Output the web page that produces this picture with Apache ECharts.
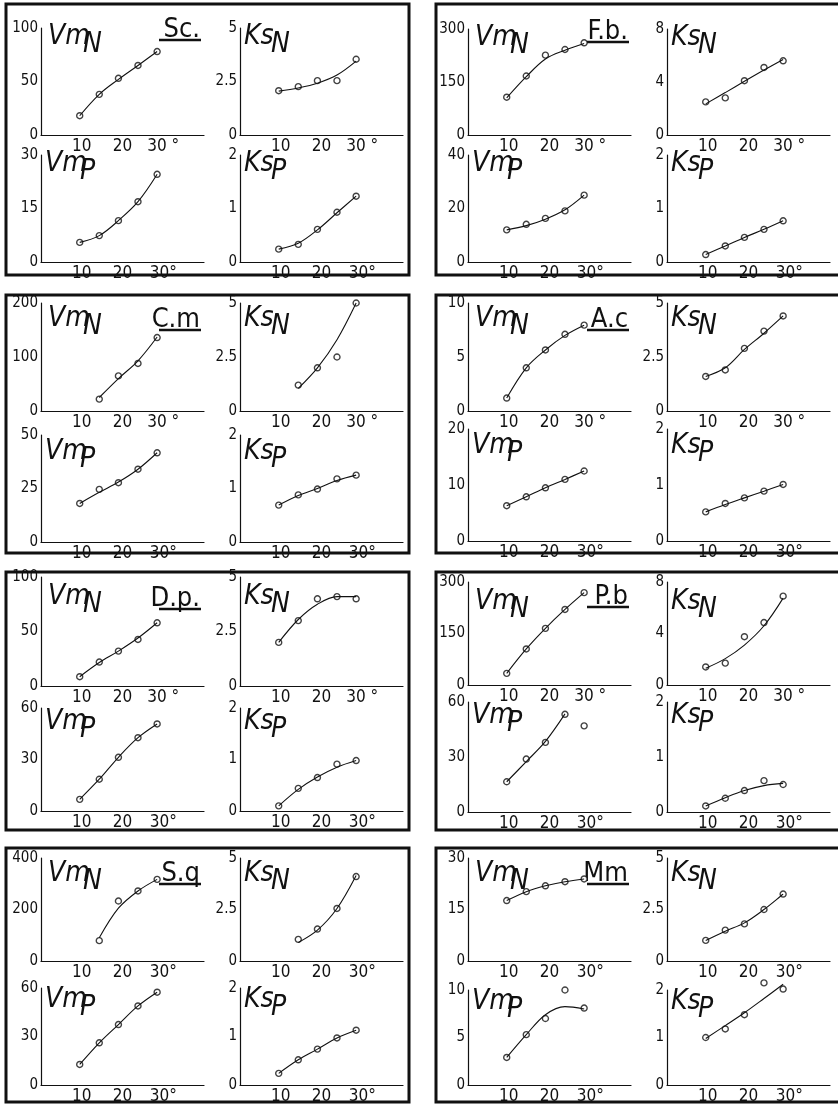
<!DOCTYPE html>
<html>
<head>
<meta charset="utf-8">
<script src="https://cdn.jsdelivr.net/npm/echarts@6/dist/echarts.min.js"></script>
<style>
html, body { margin: 0; background: #fff; }
#chart { width: 838px; height: 1105px; }
</style>
</head>
<body>
<div id="chart"></div>
<script>
// temperatures (deg) at which the five measurements were taken
let degrees = [9.5, 14.3, 19, 23.8, 28.5];
let species = ['Sc.', 'F.b.', 'C.m', 'A.c', 'D.p.', 'P.b', 'S.q', 'Mm'];
let panelNames = [['Vm', 'N'], ['Ks', 'N'], ['Vm', 'P'], ['Ks', 'P']];

// axis maxima, one per species
let vmNMax = [100, 300, 200, 10, 100, 300, 400, 30];
let ksNMax = [5, 8, 5, 5, 5, 8, 5, 5];
let vmPMax = [30, 40, 50, 20, 60, 60, 60, 10];
let ksPMax = [2, 2, 2, 2, 2, 2, 2, 2];

// measured points
let vmNPts = [
	[18, 38, 53, 65, 78],
	[107, 167, 226, 242, 261],
	[null, 22, 65, 88, 136],
	[1.2, 4.0, 5.65, 7.1, 7.95],
	[8.5, 22, 32, 42.7, 58],
	[34, 105, 165, 220, 269],
	[null, 79, 233, 272, 317],
	[17.6, 20.2, 21.9, 23.1, 23.9]
];
let ksNPts = [
	[2.07, 2.26, 2.54, 2.54, 3.54],
	[2.5, 2.8, 4.1, 5.1, 5.6],
	[null, 1.2, 2.0, 2.5, 5.0],
	[1.6, 1.9, 2.9, 3.7, 4.4],
	[2.0, 3.0, 4.0, 4.1, 4.0],
	[1.4, 1.7, 3.75, 4.85, 6.9],
	[null, 1.05, 1.55, 2.55, 4.1],
	[1.0, 1.5, 1.8, 2.5, 3.25]
];
let vmPPts = [
	[5.5, 7.4, 11.6, 16.9, 24.6],
	[12, 14.1, 16.3, 19.1, 25],
	[18, 24.6, 27.7, 34, 41.7],
	[6.3, 7.9, 9.5, 11, 12.5],
	[6.8, 18.5, 31.3, 42.7, 50.7],
	[16.5, 28.9, 38, 53.3, 47],
	[12.7, 26.1, 37.4, 48.9, 57.4],
	[2.9, 5.3, 7.0, 10.0, 8.1]
];
let ksPPts = [
	[0.24, 0.33, 0.61, 0.93, 1.23],
	[0.14, 0.30, 0.46, 0.61, 0.77],
	[0.69, 0.88, 0.99, 1.18, 1.25],
	[0.52, 0.67, 0.77, 0.89, 1.01],
	[0.10, 0.44, 0.65, 0.91, 0.98],
	[0.11, 0.25, 0.39, 0.57, 0.50],
	[0.24, 0.52, 0.74, 0.97, 1.13],
	[1.0, 1.18, 1.48, 2.15, 2.02]
];

// fitted curves
let vmNFit = [
	[18, 38, 52, 65, 78],
	[105, 165, 215, 240, 259],
	[null, 25, 60, 93, 137],
	[1.2, 4.0, 5.65, 7.0, 7.95],
	[8.5, 21.5, 32, 44, 58],
	[34, 105, 165, 220, 269],
	[null, 90, 205, 272, 317],
	[17.6, 20.2, 21.9, 23.1, 23.9]
];
let ksNFit = [
	[2.05, 2.2, 2.42, 2.8, 3.45],
	[2.35, 3.2, 4.05, 4.9, 5.7],
	[null, 1.05, 2.0, 3.3, 5.0],
	[1.6, 2.0, 2.85, 3.6, 4.4],
	[2.0, 3.05, 3.75, 4.1, 4.1],
	[1.3, 2.05, 3.1, 4.6, 6.75],
	[null, 0.9, 1.5, 2.55, 4.15],
	[1.0, 1.45, 1.85, 2.5, 3.25]
];
let vmPFit = [
	[5.5, 7.4, 11.6, 16.9, 24.6],
	[12, 13.6, 16, 19.5, 25],
	[18, 23.2, 28, 34, 41.7],
	[6.3, 7.9, 9.5, 11, 12.5],
	[6.8, 18.5, 31.3, 42.7, 50.7],
	[16.5, 27.5, 38.5, 53.5, null],
	[12.7, 26.1, 37.4, 48.9, 57.4],
	[2.9, 5.3, 7.4, 8.25, 8.0]
];
let ksPFit = [
	[0.24, 0.35, 0.6, 0.92, 1.23],
	[0.14, 0.30, 0.46, 0.61, 0.77],
	[0.69, 0.87, 1.0, 1.15, 1.25],
	[0.52, 0.65, 0.77, 0.89, 1.01],
	[0.10, 0.42, 0.66, 0.85, 0.98],
	[0.11, 0.26, 0.39, 0.48, 0.52],
	[0.24, 0.52, 0.74, 0.97, 1.13],
	[0.98, 1.25, 1.52, 1.82, 2.12]
];

let maxes = [vmNMax, ksNMax, vmPMax, ksPMax];
let pts = [vmNPts, ksNPts, vmPPts, ksPPts];
let fits = [vmNFit, ksNFit, vmPFit, ksPFit];

// layout (pixels)
let colX = [[41, 240], [468, 667]];
let plotW = 163;
let rowY = [
	[[28, 135, 155, 262], [303, 411, 435, 542], [577, 686, 708, 811], [858, 961, 988, 1089]],
	[[29, 135, 155, 262], [303, 411, 429, 541], [582, 685, 702, 812], [858, 961, 990, 1090]]
];
let boxX = [[6, 409], [436, 850]];
let boxY = [[4, 275], [295, 553], [572, 830], [848, 1102]];
let titleDy = [[23, 23], [30, 31], [34, 28], [30, 26]];
let specRight = [200, 628];
let specLine = [40, 42, 330, 330, 609, 607, 884, 884];

let font = "'Liberation Sans Narrow', 'DejaVu Sans Condensed', 'Liberation Sans', sans-serif";
let grids = [], xAxes = [], yAxes = [], series = [], graphics = [];

species.forEach((name, s) => {
	let row = Math.floor(s / 2), col = s % 2;
	let ly = rowY[col][row];
	graphics.push({
		type: 'rect', silent: true,
		shape: { x: boxX[col][0], y: boxY[row][0], width: boxX[col][1] - boxX[col][0], height: boxY[row][1] - boxY[row][0] },
		style: { fill: null, stroke: '#111', lineWidth: 3 }
	});
	graphics.push({
		type: 'text', silent: true, x: specRight[col], y: specLine[s] + 3,
		style: { text: name, font: '27px ' + font, fill: '#111', align: 'right', verticalAlign: 'bottom' }
	});
	graphics.push({
		type: 'line', silent: true,
		shape: { x1: specRight[col] - 41, y1: specLine[s], x2: specRight[col] + 1, y2: specLine[s] },
		style: { stroke: '#111', lineWidth: 2.5 }
	});

	for (let k = 0; k < 4; k++) {
		let g = grids.length;
		let left = colX[col][k % 2];
		let top = k < 2 ? ly[0] : ly[2];
		let bottom = k < 2 ? ly[1] : ly[3];
		let m = maxes[k][s];
		grids.push({ left: left, top: top, width: plotW, height: bottom - top });
		xAxes.push({
			gridIndex: g, type: 'value', min: 0, max: 40, interval: 10,
			axisLine: { lineStyle: { color: '#111', width: 1.2 } },
			axisTick: { show: false }, splitLine: { show: false },
			axisLabel: {
				color: '#111', fontSize: 17, fontFamily: font, margin: 3,
				formatter: v => v === 10 || v === 20 ? String(v) : v === 30 ? (k < 2 && row < 3 ? '30 °' : '30°') : ''
			}
		});
		yAxes.push({
			gridIndex: g, type: 'value', min: 0, max: m, interval: m / 2,
			axisLine: { show: true, lineStyle: { color: '#111', width: 1.2 } },
			axisTick: { show: false }, splitLine: { show: false },
			axisLabel: { color: '#111', fontSize: 15, fontFamily: font, margin: 3, formatter: v => String(v) }
		});
		series.push({
			type: 'line', xAxisIndex: g, yAxisIndex: g, smooth: 0.35, showSymbol: false, clip: false, silent: true,
			lineStyle: { color: '#111', width: 1.1 },
			data: degrees.map((d, i) => [d, fits[k][s][i]]).filter(p => p[1] != null)
		});
		series.push({
			type: 'scatter', xAxisIndex: g, yAxisIndex: g, symbol: 'circle', symbolSize: 6, clip: false, silent: true,
			itemStyle: { color: '#fff', borderColor: '#111', borderWidth: 1.4 },
			data: degrees.map((d, i) => [d, pts[k][s][i]]).filter(p => p[1] != null)
		});
		// panel title such as Vm with subscript N
		let tx = left + (k === 0 ? 7 : 4);
		let ty = top + titleDy[row][k < 2 ? 0 : 1];
		let big = panelNames[k][0], sub = panelNames[k][1];
		graphics.push({
			type: 'text', silent: true, x: tx, y: ty,
			style: { text: big, font: 'italic 28px ' + font, fill: '#111', verticalAlign: 'bottom' }
		});
		graphics.push({
			type: 'text', silent: true, x: tx + (big === 'Vm' ? 35 : 27), y: ty + 8,
			style: { text: sub, font: 'italic 28px ' + font, fill: '#111', verticalAlign: 'bottom' }
		});
	}
});

let chart = echarts.init(document.getElementById('chart'));
chart.setOption({
	animation: false,
	backgroundColor: '#fff',
	grid: grids,
	xAxis: xAxes,
	yAxis: yAxes,
	series: series,
	graphic: graphics
});
</script>
</body>
</html>
